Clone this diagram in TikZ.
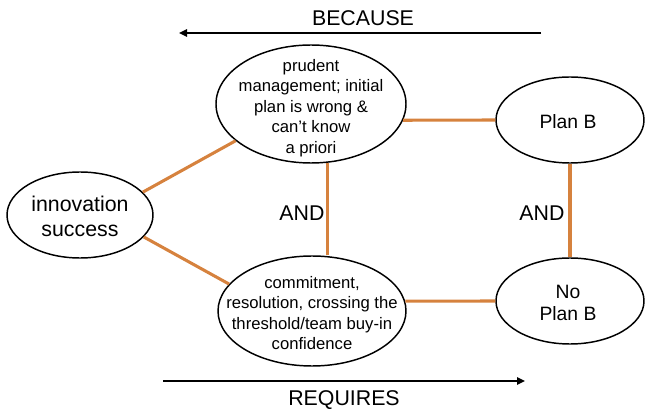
\documentclass[tikz,border=0pt]{standalone}
\usepackage{fontspec}
\setmainfont{Liberation Sans}
\usetikzlibrary{shapes.geometric,arrows.meta}
\definecolor{linkorange}{RGB}{214,130,62}
\begin{document}
\begin{tikzpicture}[x=0.75pt,y=-0.75pt,
  oval/.style={draw=black,line width=1.1pt,ellipse,inner sep=0pt},
  link/.style={draw=linkorange,line width=2.3pt},
  txt/.style={align=center,inner sep=0pt},
  smalltxt/.style={txt,font=\fontsize{12.5}{15.4}\selectfont},
  bigtxt/.style={txt,font=\fontsize{16}{18.75}\selectfont},
  midtxt/.style={txt,font=\fontsize{14.5}{16.3}\selectfont},
  bigarrow/.style={draw=black,line width=1.5pt,-{Triangle[length=6pt,width=5.5pt]}}]
\useasboundingbox (0,0) rectangle (647,417);
% ellipses
\node[oval,minimum width=109.5pt,minimum height=64.5pt] (inn) at (80,215) {};
\node[oval,minimum width=142.5pt,minimum height=88.5pt] (prud) at (311,104) {};
\node[oval,minimum width=141pt,minimum height=82.5pt] (comm) at (312,311) {};
\node[oval,minimum width=111pt,minimum height=64.5pt] (planb) at (570,120) {};
\node[oval,minimum width=111pt,minimum height=64.5pt] (noplanb) at (570,301) {};
% texts
\node[bigtxt] (innt) at (80,216) {innovation\\success};
\node[smalltxt] (prudt) at (311,108) {prudent\\management; initial\\plan is wrong \&\\can’t know\\a priori};
\node[smalltxt] (commt) at (312,313) {commitment,\\resolution, crossing the\\threshold/team buy-in\\confidence};
\node[midtxt] (planbt) at (568,122) {Plan B};
\node[midtxt] (noplanbt) at (568,303) {No\\Plan B};
\node[bigtxt] (and1) at (302,213) {AND};
\node[bigtxt] (and2) at (542,213) {AND};
\node[bigtxt] (because) at (363,18) {BECAUSE};
\node[bigtxt] (requires) at (344,400) {REQUIRES};
% connectors
\draw[link] (inn.20) -- (prud.206);
\draw[link] (inn.-19) -- (comm.162);
\draw[link] (prud.-10) -- (planb.west);
\draw[link] (prud.-74) -- (prud.-74 |- comm.north);
\draw[link] (comm.6) -- (noplanb.west);
\draw[link] (planb.south) -- (noplanb.north);
% arrows
\coordinate (b1) at (541,33);
\coordinate (b2) at (179,33);
\coordinate (r1) at (163,381);
\coordinate (r2) at (525,381);
\draw[bigarrow] (b1) -- (b2);
\draw[bigarrow] (r1) -- (r2);
\end{tikzpicture}
\end{document}
